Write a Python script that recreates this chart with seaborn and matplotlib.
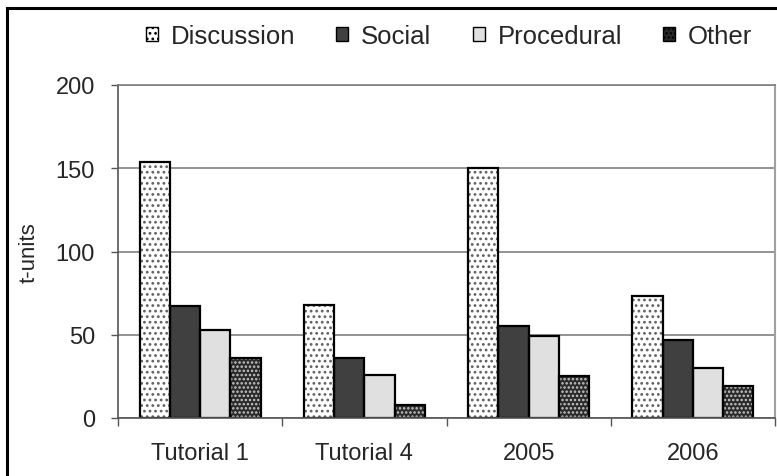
import matplotlib
matplotlib.use("Agg")
import matplotlib.pyplot as plt
import seaborn as sns
import pandas as pd
from matplotlib.patches import Patch, Rectangle

categories = ["Tutorial 1", "Tutorial 4", "2005", "2006"]
series = ["Discussion", "Social", "Procedural", "Other"]
discussion = [154, 68, 150, 73]
social = [67, 36, 55, 47]
procedural = [53, 26, 49, 30]
other = [36, 8, 25, 19]
y_ticks = [0, 50, 100, 150, 200]

values = {"Discussion": discussion, "Social": social,
          "Procedural": procedural, "Other": other}
rows = []
for s in series:
    for c, v in zip(categories, values[s]):
        rows.append({"cat": c, "type": s, "value": v})
df = pd.DataFrame(rows)

sns.set_style("white")
plt.rcParams["font.family"] = ["Liberation Sans", "DejaVu Sans"]
plt.rcParams["hatch.linewidth"] = 1.2

face = {"Discussion": "#ffffff", "Social": "#404040",
        "Procedural": "#e0e0e0", "Other": "#2a2a2a"}
hatch = {"Discussion": "...", "Social": None, "Procedural": None, "Other": "...."}
hcol = {"Discussion": "#606060", "Social": "#404040",
        "Procedural": "#e0e0e0", "Other": "#c8c8c8"}

fig = plt.figure(figsize=(7.77, 4.77), dpi=100)
ax = fig.add_axes([118/777, 58/477, 657/777, 333/477])

sns.barplot(data=df, x="cat", y="value", hue="type", order=categories,
            hue_order=series, palette=face, width=0.737, gap=0,
            linewidth=0, legend=False, ax=ax, saturation=1)
for s, cont in zip(series, ax.containers[:4]):
    for p in cont:
        p.set_edgecolor(hcol[s])
        p.set_linewidth(0)
        if hatch[s]:
            p.set_hatch(hatch[s])

sns.barplot(data=df, x="cat", y="value", hue="type", order=categories,
            hue_order=series, palette=face, width=0.737, gap=0,
            linewidth=1.6, edgecolor="black", legend=False, ax=ax, saturation=1)
for cont in ax.containers[4:]:
    for p in cont:
        p.set_facecolor("none")
        p.set_edgecolor("black")

ax.set_ylim(0, 200)
ax.set_xlim(-0.5, 3.5)
ax.set_yticks(y_ticks)
ax.set_yticklabels([str(t) for t in y_ticks])
ax.yaxis.grid(True, color="#808080", linewidth=1.2)
ax.set_axisbelow(True)
ax.set_xlabel("")
ax.set_ylabel("t-units", fontsize=16)
ax.yaxis.set_label_coords(-0.12, 0.5)
ax.tick_params(axis="y", which="major", direction="out", length=5, width=1,
               color="#555555", labelsize=17, pad=11.5, left=True)
ax.tick_params(axis="x", which="major", length=0, labelsize=17, pad=17)
ax.set_xticks([-0.5, 0.5, 1.5, 2.5, 3.5], minor=True)
ax.tick_params(axis="x", which="minor", direction="out", length=6, width=1,
               color="#555555", bottom=True)
for side in ["left", "bottom"]:
    ax.spines[side].set_color("#555555")
    ax.spines[side].set_linewidth(1.2)
ax.spines["top"].set_color("#808080")
ax.spines["top"].set_linewidth(1.2)
ax.spines["right"].set_color("#a0a0a0")
ax.spines["right"].set_linewidth(1.5)

handles = [Patch(facecolor=face[s], edgecolor="black", hatch=hatch[s], linewidth=1)
           for s in series]
fig.legend(handles, series, loc="center", bbox_to_anchor=(0.578, 0.922), ncol=4,
           frameon=False, fontsize=18.5, handlelength=0.47, handleheight=0.47,
           handletextpad=0.5, columnspacing=1.6)

fig.add_artist(Rectangle((7/777, -0.2), 1.2, 1 - 9/477 + 0.2,
                         transform=fig.transFigure, fill=False,
                         edgecolor="black", linewidth=2.2, clip_on=False))

fig.savefig("out.png", dpi=100)
